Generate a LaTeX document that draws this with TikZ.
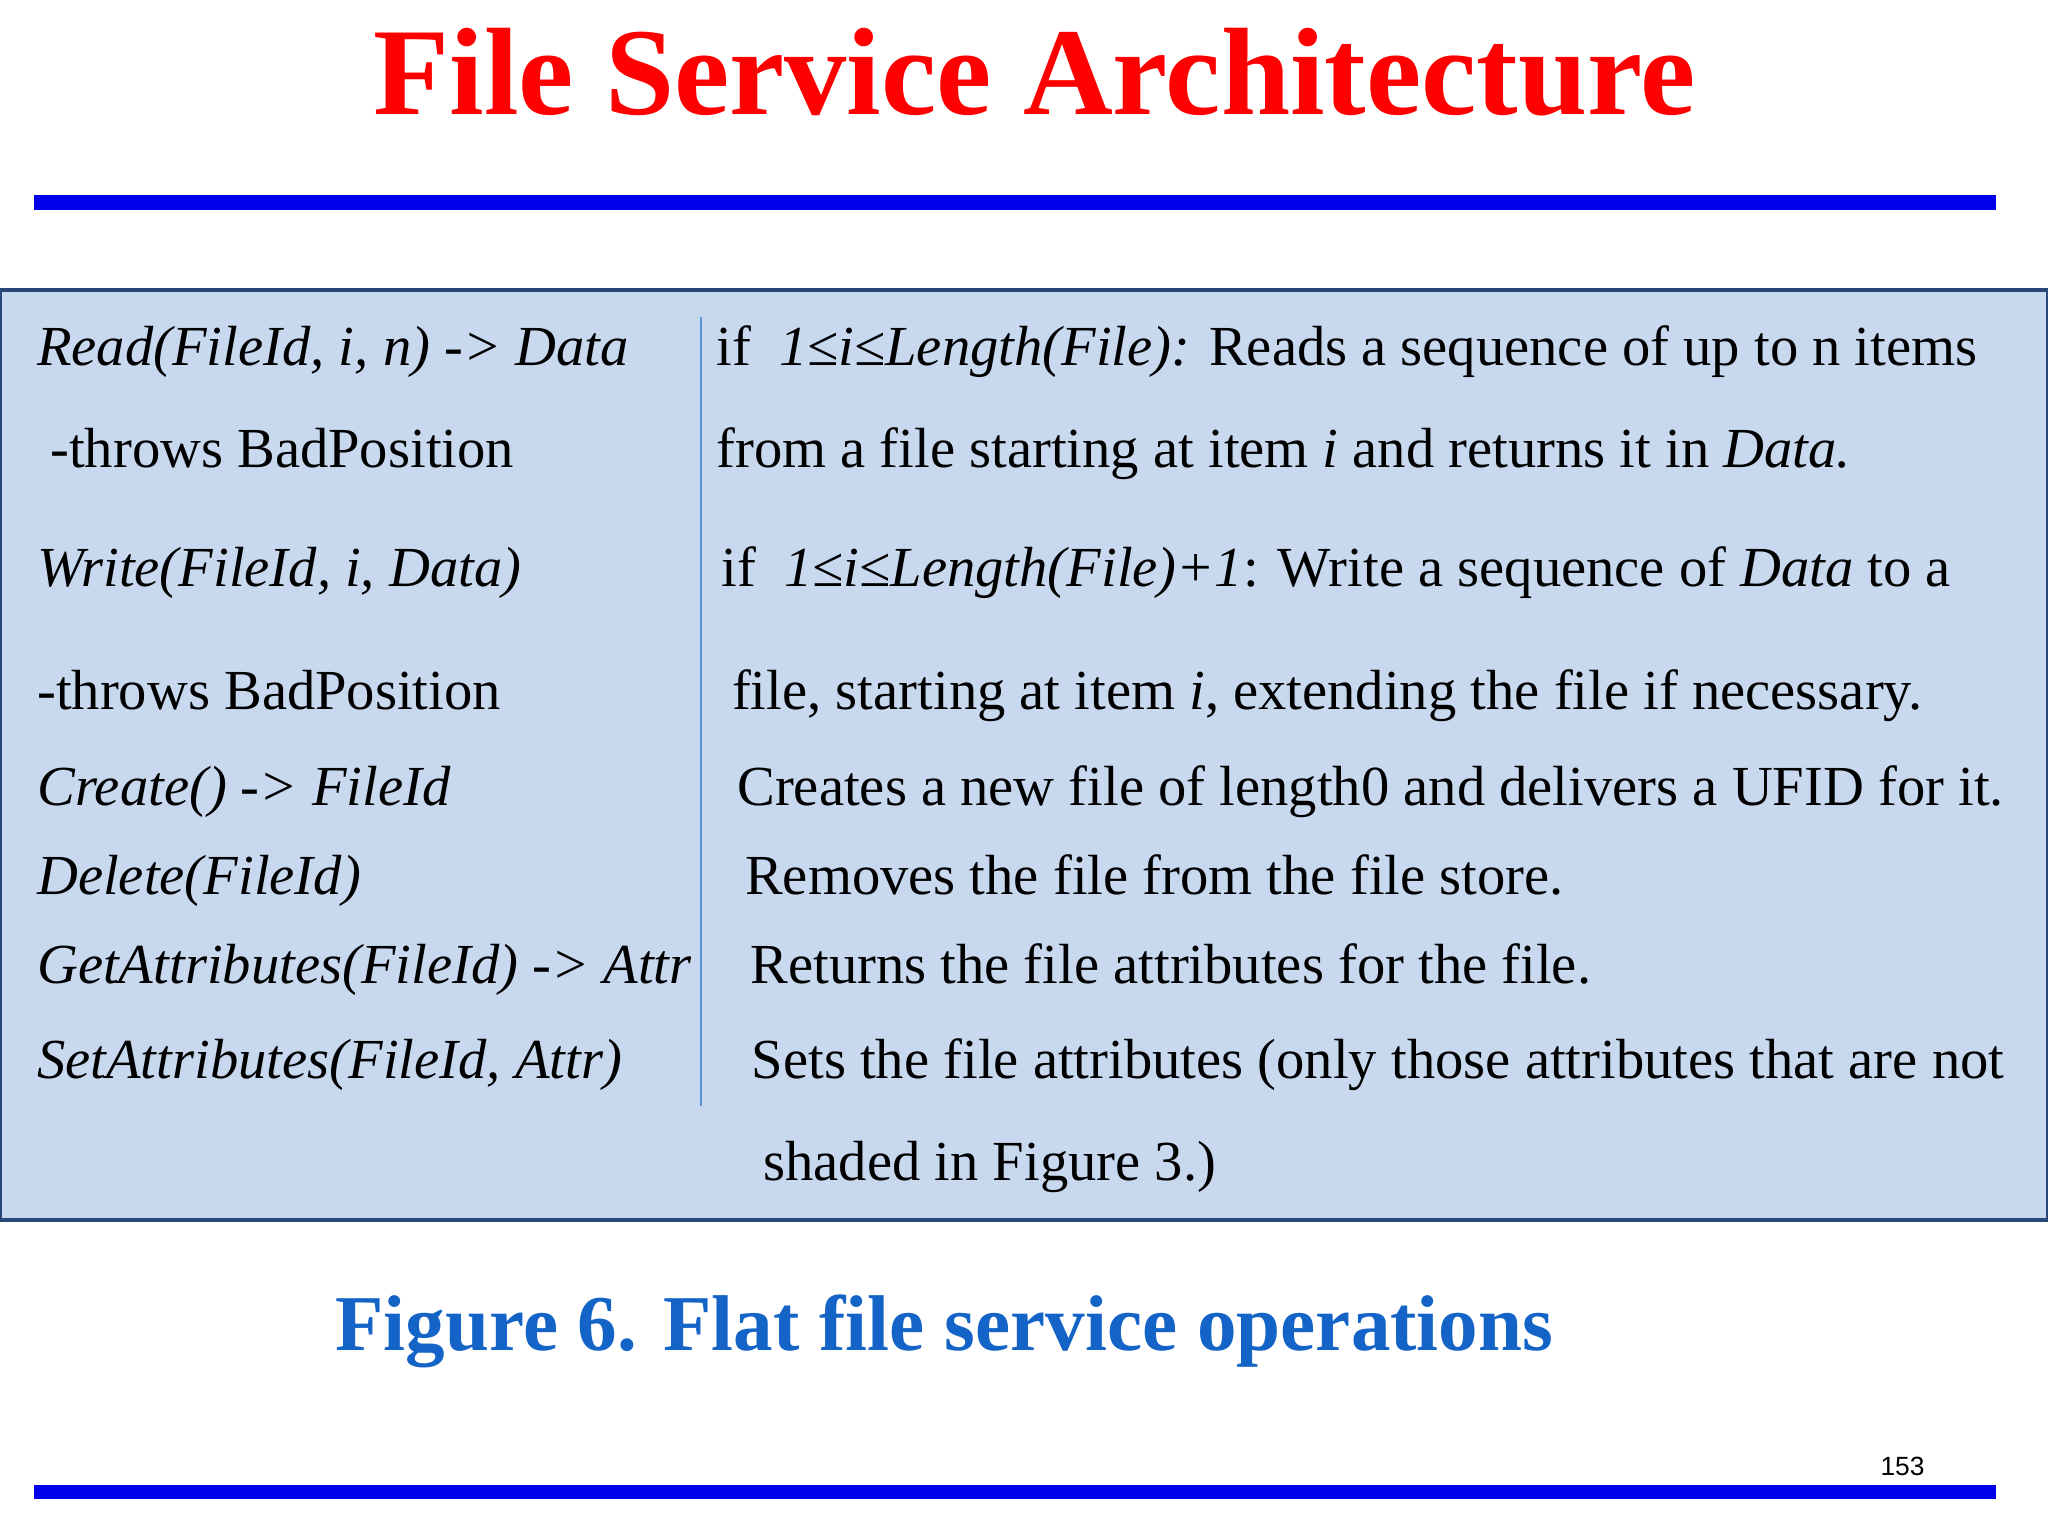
\documentclass[tikz,border=0pt]{standalone}
\usepackage{fontspec}
\setmainfont{Liberation Serif}
\setsansfont{Liberation Sans}
\definecolor{boxfill}{RGB}{200,216,238}
\definecolor{boxline}{RGB}{40,70,120}
\definecolor{rule}{RGB}{0,0,235}
\definecolor{cap}{RGB}{20,100,200}
\begin{document}
\begin{tikzpicture}[x=0.01306cm,y=-0.01306cm,
  t/.style={anchor=base west,inner sep=0pt,font=\fontsize{16.1}{19}\selectfont}]
\useasboundingbox (0,0) rectangle (1568,1176);
\fill[white] (0,0) rectangle (1568,1176);
\node[inner sep=0pt,anchor=base,text=red,font=\fontsize{35.4}{40}\bfseries] (title) at (792,88) {File Service Architecture};
\fill[rule] (26,149) rectangle (1528,161);
\fill[rule] (26,1137) rectangle (1528,1148);
\draw[boxline,line width=1.2pt,fill=boxfill] (0,222) rectangle (1568,934);
\draw[cap!70,line width=0.6pt] (537,243) -- (537,847);
\node[t] (a1) at (28,280) {\itshape Read(FileId, i, n) -> Data};
\node[t] (a2) at (38,358) {-throws BadPosition};
\node[t] (a3) at (28,449) {\itshape Write(FileId, i, Data)};
\node[t] (a4) at (28,543) {-throws BadPosition};
\node[t] (a5) at (28,617) {\itshape Create() -> FileId};
\node[t] (a6) at (28,685) {\itshape Delete(FileId)};
\node[t] (a7) at (28,753) {\itshape GetAttributes(FileId) -> Attr};
\node[t] (a8) at (28,826) {\itshape SetAttributes(FileId, Attr)};
\node[t] (b1) at (548,280) {if\ \ \textit{1≤i≤Length(File):} Reads a sequence of up to n items};
\node[t] (b2) at (548,358) {from a file starting at item \textit{i} and returns it in \textit{Data.}};
\node[t] (b3) at (552,449) {if\ \ \textit{1≤i≤Length(File)+1}: Write a sequence of \textit{Data} to a};
\node[t] (b4) at (560,543) {file, starting at item \textit{i}, extending the file if necessary.};
\node[t] (b5) at (564,617) {Creates a new file of length0 and delivers a UFID for it.};
\node[t] (b6) at (570,685) {Removes the file from the file store.};
\node[t] (b7) at (574,753) {Returns the file attributes for the file.};
\node[t] (b8) at (575,826) {Sets the file attributes (only those attributes that are not};
\node[t] (b9) at (584,904) {shaded in Figure 3.)};
\node[inner sep=0pt,anchor=base,text=cap,font=\fontsize{22.5}{26}\bfseries] (fig) at (723,1034) {Figure 6. Flat file service operations};
\node[inner sep=0pt,anchor=base east,font=\sffamily\fontsize{7.5}{9}\selectfont] (pg) at (1474,1130) {153};
\end{tikzpicture}
\end{document}
